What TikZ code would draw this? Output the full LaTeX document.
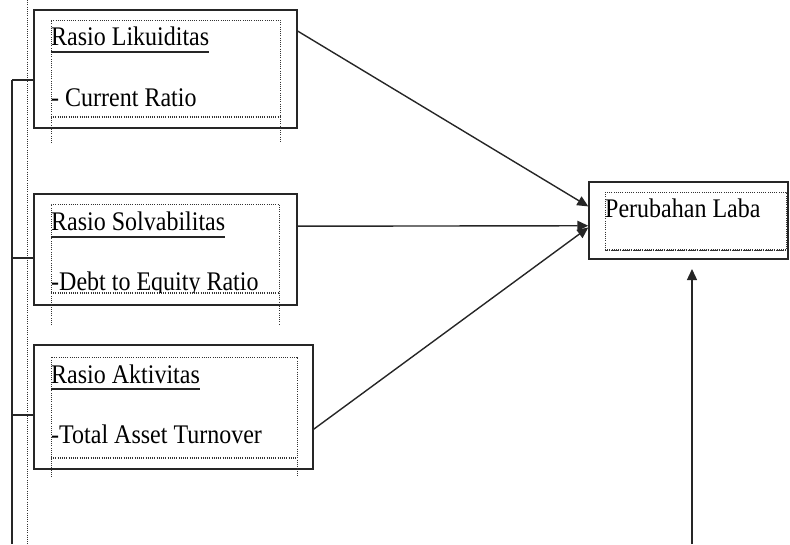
\documentclass[tikz,border=0pt]{standalone}
\usepackage{fontspec}
\setmainfont{Liberation Serif}
\usetikzlibrary{calc,arrows.meta}
\newcommand{\tallt}[1]{\scalebox{1}[1.12]{#1}}
\tikzset{
	outerbox/.style={draw=black!85, line width=1.4pt, inner sep=0pt},
	innerdots/.style={black!80, line width=0.8pt, dash pattern=on 0.9pt off 1.3pt},
	txt/.style={inner sep=0pt, anchor=base west, font=\fontsize{24}{24}\selectfont},
	arr/.style={black!85, line width=1.4pt, -{Triangle[length=11pt,width=10pt]}},
	uline/.style={black!85, line width=1.1pt}
}

\begin{document}
\begin{tikzpicture}[x=1pt,y=1pt]
		%%%%% START %%%%%
		\useasboundingbox (0,0) rectangle (790,-544);
		
		\node[outerbox, minimum width=263pt, minimum height=118pt] (likuid) at (165.5,-69) {};
		\node[outerbox, minimum width=263pt, minimum height=111pt] (solva) at (165.5,-249.5) {};
		\node[outerbox, minimum width=279pt, minimum height=124pt] (aktiv) at (173.5,-407) {};
		\node[outerbox, minimum width=199pt, minimum height=77pt] (laba) at (688.5,-220.5) {};
		
		\draw[innerdots] (27,0) -- (27,-544);
		
		\draw[innerdots] (51,-143) -- (51,-20) -- (280,-20) -- (280,-143);
		\draw[innerdots, line width=1.5pt] (51,-117) -- (280,-117);
		\draw[innerdots] (51,-325) -- (51,-204) -- (279,-204) -- (279,-325);
		\draw[innerdots, line width=1.5pt] (51,-293) -- (279,-293);
		\draw[innerdots] (51,-477) -- (51,-357) -- (297,-357) -- (297,-477);
		\draw[innerdots, line width=1.5pt] (51,-458) -- (297,-458);
		\draw[innerdots] (605,-192) rectangle (786,-250);
		\draw[innerdots, line width=1.5pt] (605,-250) -- (786,-250);
		
		\node[txt] (likuidt) at (51,-45) {\tallt{Rasio Likuiditas}};
		\draw[uline] ([yshift=-7pt]likuidt.base west) -- ([yshift=-7pt]likuidt.base east);
		\node[txt] (currt) at (51,-106) {\tallt{- Current Ratio}};
		
		\node[txt] (solvat) at (51,-230) {\tallt{Rasio Solvabilitas}};
		\draw[uline] ([yshift=-7pt]solvat.base west) -- ([yshift=-7pt]solvat.base east);
		\begin{scope}
			\clip (45,-262) rectangle (290,-292);
			\node[txt] (dert) at (51,-290) {\tallt{-Debt to Equity Ratio}};
		\end{scope}
		
		\node[txt] (aktivt) at (51,-383) {\tallt{Rasio Aktivitas}};
		\draw[uline] ([yshift=-6pt]aktivt.base west) -- ([yshift=-6pt]aktivt.base east);
		\node[txt] (tatot) at (51,-443) {\tallt{-Total Asset Turnover}};
		
		\node[txt] (labat) at (605,-217) {\tallt{Perubahan Laba}};
		
		\coordinate (brk) at (12,-544);
		\draw[outerbox] ([yshift=-11pt]likuid.west -| brk) -- (brk);
		\draw[outerbox] ([yshift=-11pt]likuid.west -| brk) -- ([yshift=-11pt]likuid.west);
		\draw[outerbox] ([yshift=-8.5pt]solva.west -| brk) -- ([yshift=-8.5pt]solva.west);
		\draw[outerbox] ([yshift=-8pt]aktiv.west -| brk) -- ([yshift=-8pt]aktiv.west);
		
		\draw[arr] (likuid.16.5) -- (laba.172.3);
		\draw[arr] (solva.10.1) -- (laba.183.2);
		\draw[arr] (aktiv.-9.4) -- (laba.184.3);
		
		\coordinate (src) at (692,-544);
		\draw[arr] (src) -- (692,-269);
		%%%%% END %%%%%
	\end{tikzpicture}
\end{document}
